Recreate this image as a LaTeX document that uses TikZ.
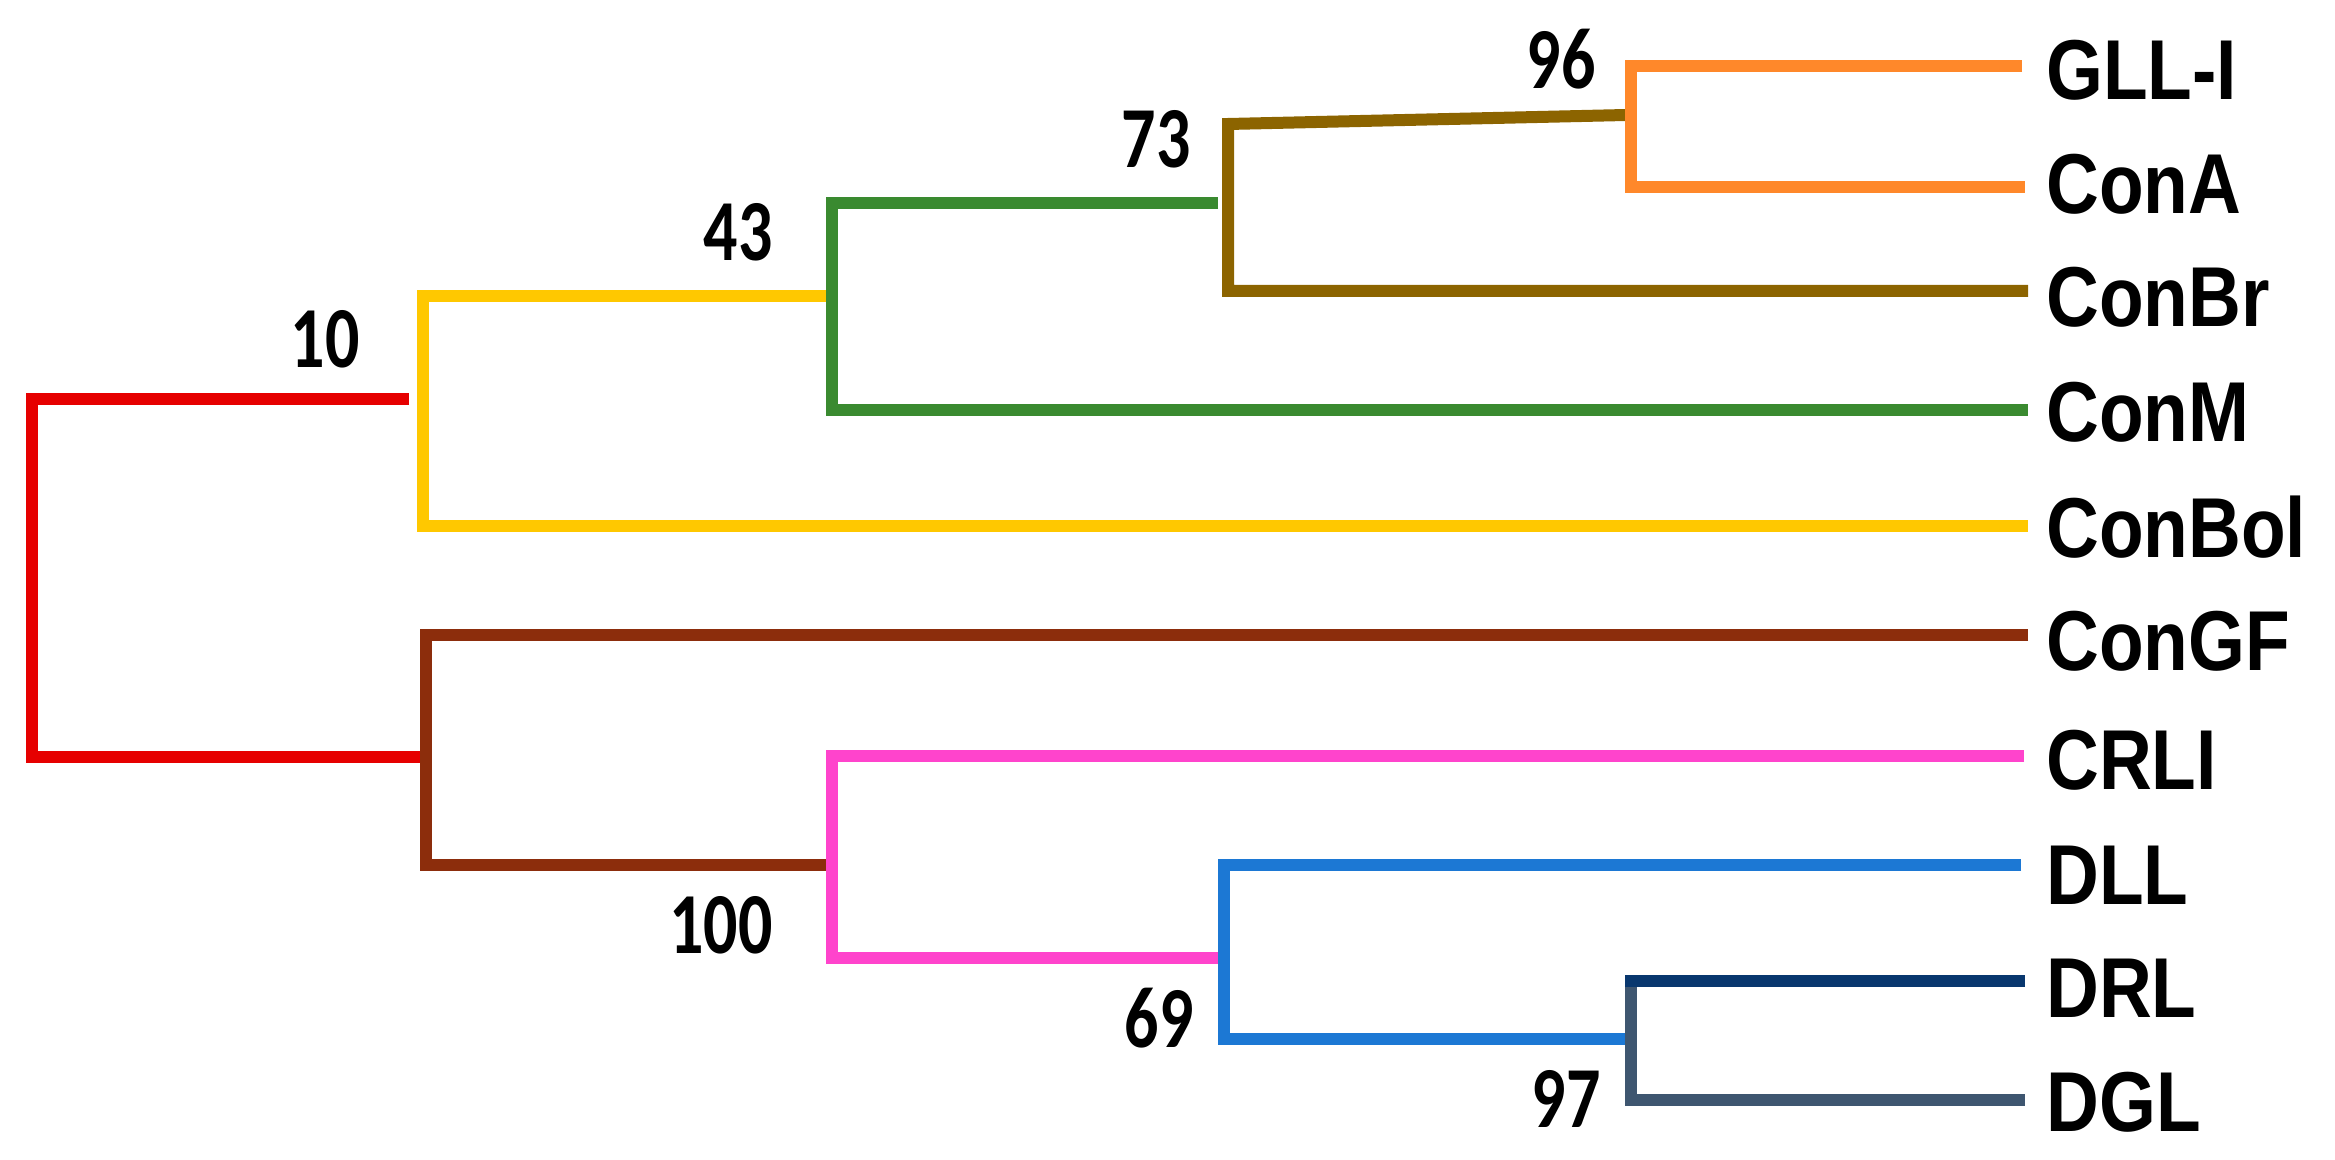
\documentclass[tikz,border=0pt]{standalone}
\usepackage{fontspec}
\newfontfamily\labfont[FakeStretch=0.86]{Liberation Sans}
\newfontfamily\numfont[FakeStretch=0.78]{Carlito}
\definecolor{cRed}{RGB}{230,0,0}
\definecolor{cYel}{RGB}{255,200,0}
\definecolor{cGrn}{RGB}{58,138,48}
\definecolor{cOli}{RGB}{140,100,0}
\definecolor{cOra}{RGB}{255,136,42}
\definecolor{cBrn}{RGB}{140,45,12}
\definecolor{cPnk}{RGB}{255,68,204}
\definecolor{cBlu}{RGB}{28,120,212}
\definecolor{cNav}{RGB}{8,55,110}
\definecolor{cSla}{RGB}{62,86,112}
\begin{document}
\begin{tikzpicture}[x=0.5pt,y=-0.5pt,
  br/.style={line width=6pt,line join=miter,line cap=butt},
  leaf/.style={anchor=base west,inner sep=0pt,font=\labfont\bfseries\fontsize{42.5}{50}\selectfont},
  bs/.style={inner sep=0pt,font=\numfont\bfseries\fontsize{43.5}{50}\selectfont}]
\useasboundingbox (0,0) rectangle (2335,1160);
% leaf labels
\node[leaf] (GLLI)   at (2046,100)  {GLL-I};
\node[leaf] (ConA)   at (2046,214)  {ConA};
\node[leaf] (ConBr)  at (2046,327)  {ConBr};
\node[leaf] (ConM)   at (2046,442)  {ConM};
\node[leaf] (ConBol) at (2046,557)  {ConBol};
\node[leaf] (ConGF)  at (2046,670)  {ConGF};
\node[leaf] (CRLI)   at (2046,789)  {CRLI};
\node[leaf] (DLL)    at (2046,904)  {DLL};
\node[leaf] (DRL)    at (2046,1017) {DRL};
\node[leaf] (DGL)    at (2046,1131) {DGL};
% leaf line ends
\coordinate (eGLLI)   at (2022,66);
\coordinate (eConA)   at (2025,187);
\coordinate (eConBr)  at (2028,291);
\coordinate (eConM)   at (2028,410);
\coordinate (eConBol) at (2028,526);
\coordinate (eConGF)  at (2028,635);
\coordinate (eCRLI)   at (2024,756);
\coordinate (eDLL)    at (2021,865);
\coordinate (eDRL)    at (2025,981);
\coordinate (eDGL)    at (2025,1100);
% inner nodes (vertical x, attachment y)
\coordinate (root) at (32,578);
\coordinate (n10)  at (423,399);
\coordinate (n43)  at (832,296);
\coordinate (n73)  at (1228,203);
\coordinate (n96)  at (1631,115);
\coordinate (nB)   at (426,757);
\coordinate (n100) at (832,865);
\coordinate (n69)  at (1224,958);
\coordinate (n97)  at (1631,1039);
% ends of parent branches (with small gaps where the figure has them)
\coordinate (a10)  at (409,399);
\coordinate (a73)  at (1218,203);
\coordinate (a96)  at (1626,115);
\coordinate (a73l) at (1228,124);
\coordinate (aDRL) at (1625,981);
% branches
\draw[br,cRed] (a10) -| (root) |- (nB);
\draw[br,cYel] (n43) -| (n10) |- (eConBol);
\draw[br,cGrn] (a73) -| (n43) |- (eConM);
\draw[br,cOli] (a96) -- (a73l) -- (n73 |- 0,291) -- (eConBr);
\draw[br,cOra] (eGLLI) -| (n96) |- (eConA);
\draw[br,cBrn] (eConGF) -| (nB) |- (n100);
\draw[br,cPnk] (eCRLI) -| (n100) |- (n69);
\draw[br,cBlu] (eDLL) -| (n69) |- (n97);
\draw[br,cSla] (eDRL) -| (n97) |- (eDGL);
\draw[br,cNav] (aDRL) -- (eDRL);
% bootstrap values
\node[bs] (b10)  at (325,339)  {10};
\node[bs] (b43)  at (738,232)  {43};
\node[bs] (b73)  at (1156,139) {73};
\node[bs] (b96)  at (1561,59)  {96};
\node[bs] (b100) at (721,925)  {100};
\node[bs] (b69)  at (1159,1018) {69};
\node[bs] (b97)  at (1566,1099) {97};
\end{tikzpicture}
\end{document}
